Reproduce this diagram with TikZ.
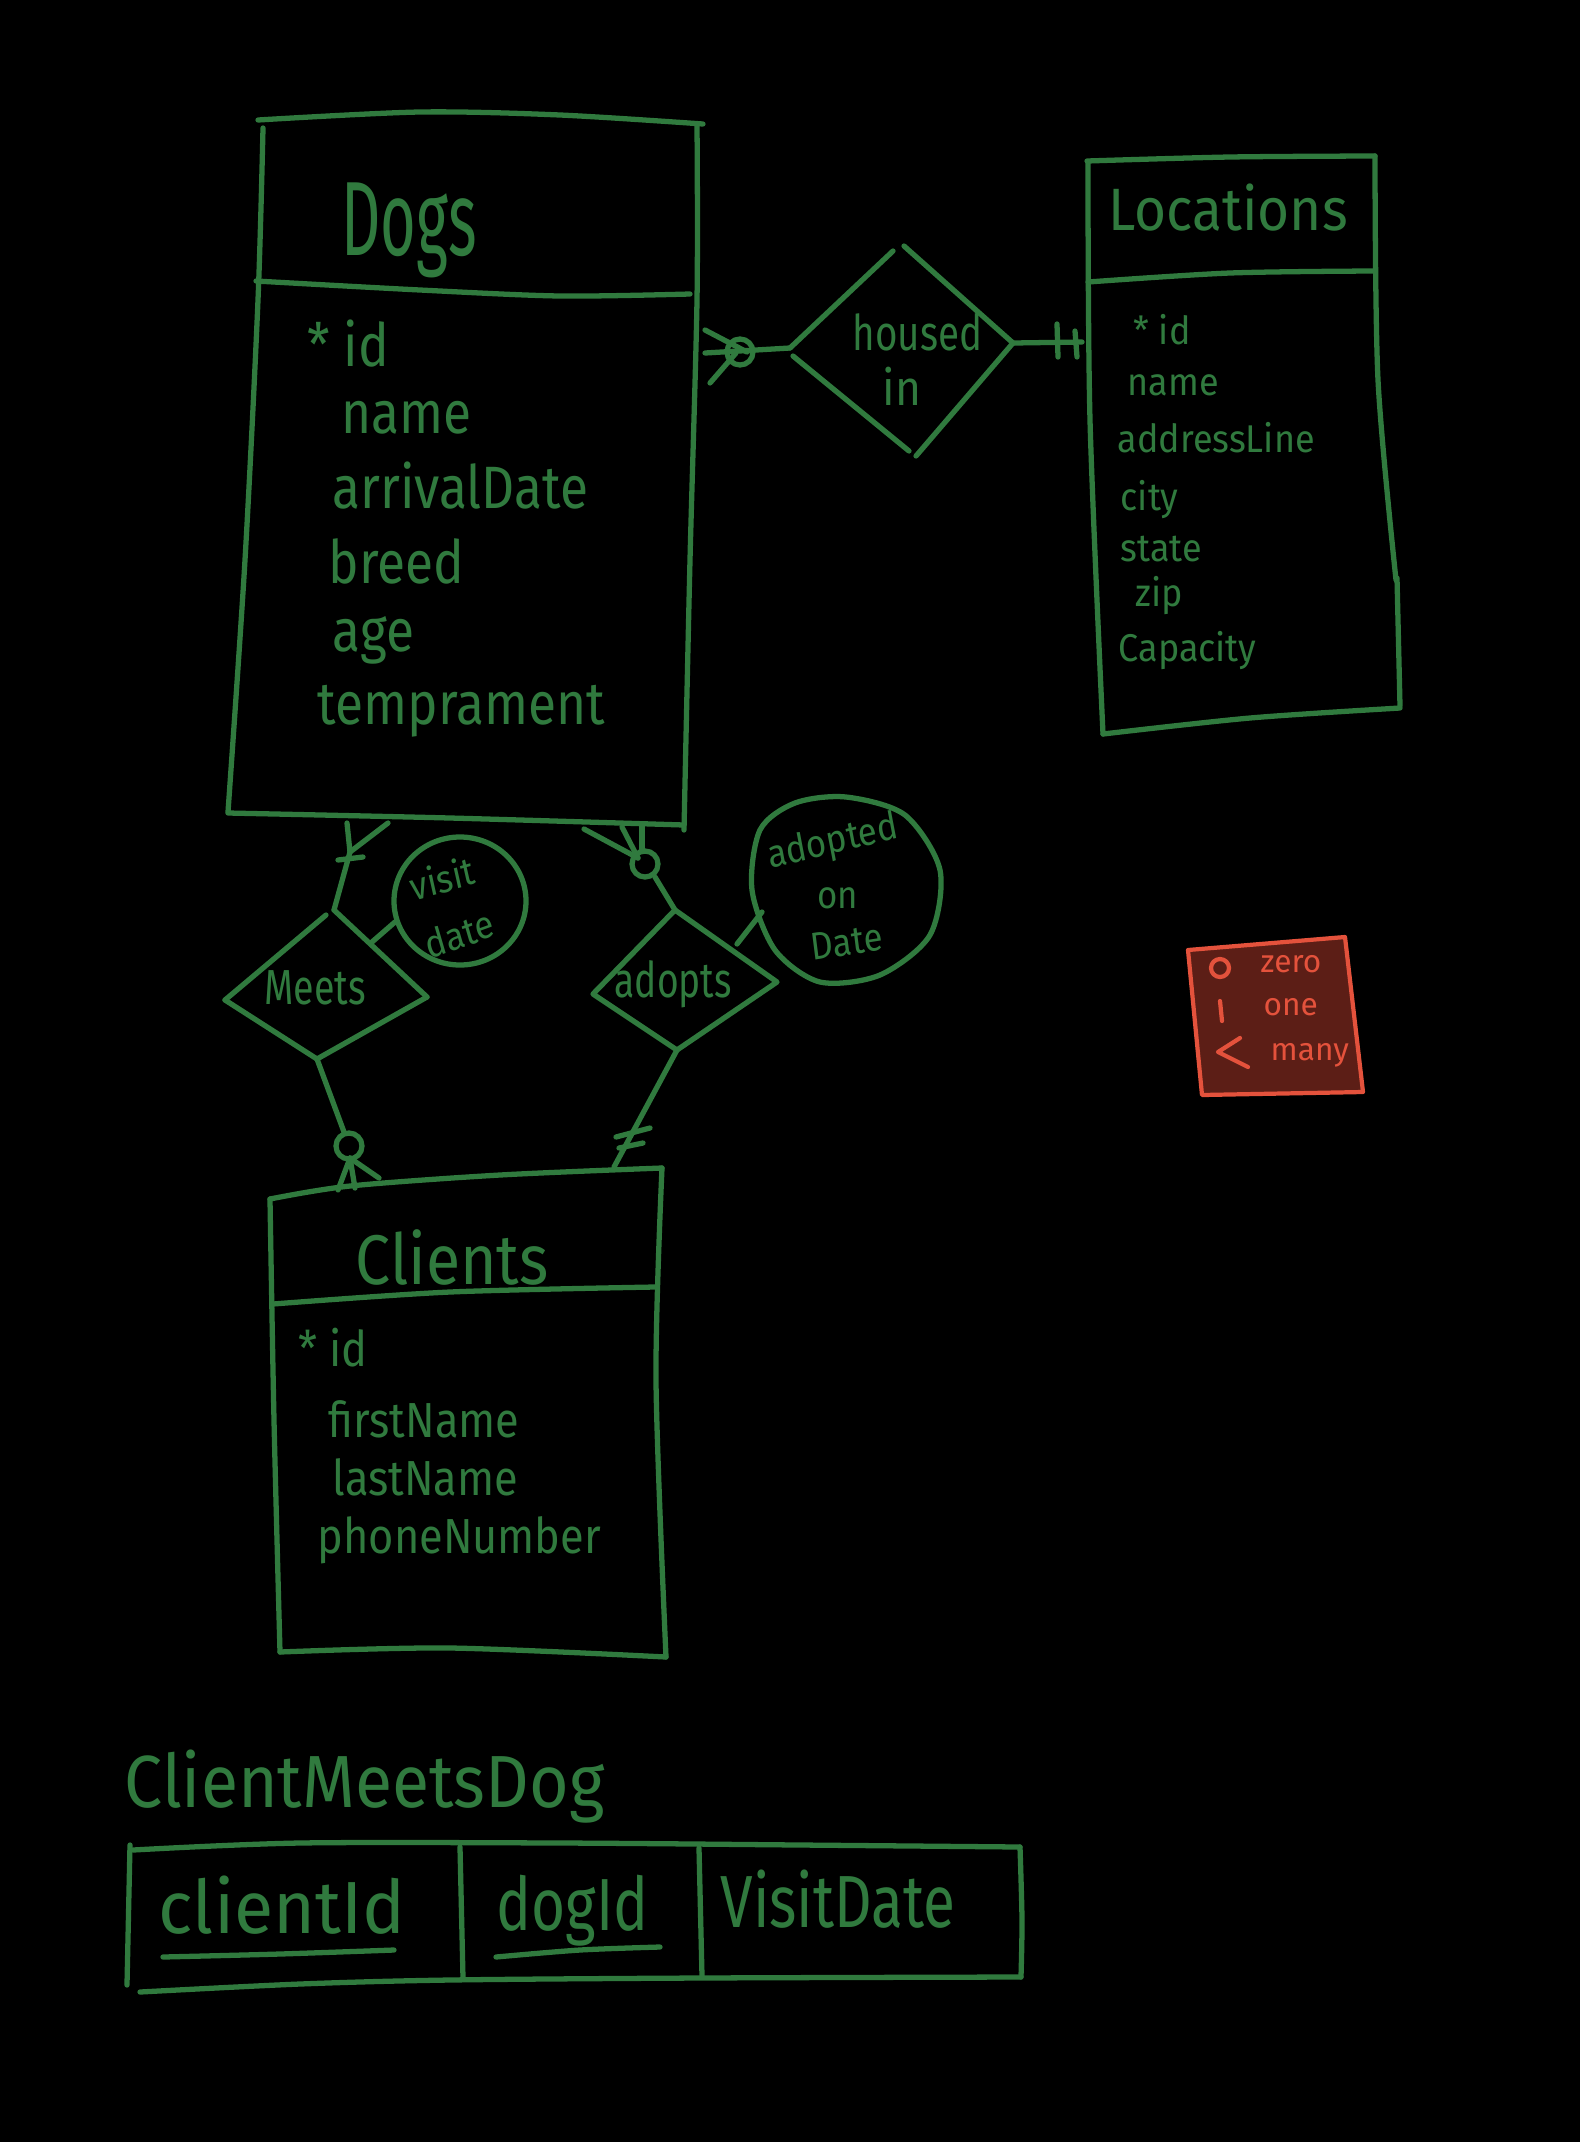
\documentclass[tikz,border=0pt]{standalone}
\usepackage{fontspec}
\setmainfont{Fira Sans}
\definecolor{ink}{RGB}{48,122,62}
\definecolor{keyink}{RGB}{228,82,60}
\definecolor{keyfill}{RGB}{92,30,22}
\begin{document}
\begin{tikzpicture}[x=0.01cm,y=-0.01cm,
  pen/.style={draw=ink,line width=1.5pt,line cap=round,line join=round},
  keypen/.style={draw=keyink,line width=1.2pt,line cap=round,line join=round},
  hw/.style={text=ink,inner sep=0pt,anchor=base west},
  dogtitle/.style={hw,font=\fontsize{30}{32}\selectfont,xscale=0.58},
  dogattr/.style={hw,font=\fontsize{17}{19}\selectfont,xscale=0.86},
  loctitle/.style={hw,font=\fontsize{17}{19}\selectfont,xscale=0.92},
  locattr/.style={hw,font=\fontsize{11}{13}\selectfont,xscale=0.93},
  clititle/.style={hw,font=\fontsize{20}{22}\selectfont,xscale=0.89},
  cliattr/.style={hw,font=\fontsize{14}{16}\selectfont,xscale=0.88},
  reltext/.style={hw,font=\fontsize{14}{16}\selectfont,xscale=0.9},
  smalltext/.style={text=ink,inner sep=0pt,font=\fontsize{11}{13}\selectfont,xscale=0.9},
  tabletitle/.style={hw,font=\fontsize{21}{23}\selectfont,xscale=0.92},
  celltext/.style={hw,font=\fontsize{21}{23}\selectfont,xscale=0.9},
  keytext/.style={text=keyink,inner sep=0pt,anchor=base west,font=\fontsize{9}{11}\selectfont}
]
% page
\fill[black] (0,0) rectangle (1580,2142);
\useasboundingbox (0,0) rectangle (1580,2142);

% ---------------- Dogs entity ----------------
\draw[pen] plot[smooth] coordinates {(258,120) (420,112) (560,115) (703,124)};
\draw[pen] plot[smooth] coordinates {(697,124) (697,300) (690,560) (684,830)};
\draw[pen] plot[smooth] coordinates {(263,128) (258,300) (245,560) (228,812)};
\draw[pen] plot[smooth] coordinates {(228,813) (450,818) (684,825)};
\draw[pen] plot[smooth] coordinates {(256,281) (420,290) (560,296) (690,294)};
\node[dogtitle] (dogs) at (341,255) {Dogs};
\node[dogattr] (dogsid) at (307,366) {* id};
\node[dogattr] at (341,433) {name};
\node[dogattr] at (332,508) {arrivalDate};
\node[dogattr] at (328,583) {breed};
\node[dogattr] at (332,651) {age};
\node[dogattr] at (317,724) {temprament};
\coordinate (dogsR) at (705,353);
\coordinate (dogsB1) at (347,823);
\coordinate (dogsB2) at (622,827);

% ---------------- Locations entity ----------------
\draw[pen] plot[smooth] coordinates {(1087,161) (1230,157) (1375,156)};
\draw[pen] plot[smooth] coordinates {(1375,156) (1378,380) (1396,580)};
\draw[pen] (1397,578) -- (1400,706);
\draw[pen] plot[smooth] coordinates {(1400,708) (1250,718) (1103,734)};
\draw[pen] plot[smooth] coordinates {(1088,162) (1090,420) (1103,734)};
\draw[pen] plot[smooth] coordinates {(1088,282) (1230,273) (1374,271)};
\node[loctitle] (locations) at (1108,230) {Locations};
\node[locattr] at (1133,344) {* id};
\node[locattr] at (1127,395) {name};
\node[locattr] at (1117,452) {addressLine};
\node[locattr] at (1120,510) {city};
\node[locattr] at (1120,561) {state};
\node[locattr] at (1135,606) {zip};
\node[locattr] at (1118,661) {Capacity};
\coordinate (locL) at (1082,342);

% ---------------- housed in ----------------
\coordinate (hT) at (898,248);
\coordinate (hR) at (1013,343);
\coordinate (hB) at (913,455);
\coordinate (hL) at (790,348);
\draw[pen] (hL) -- (893,251);
\draw[pen] (904,246) -- (hR);
\draw[pen] (hR) -- (916,456);
\draw[pen] (909,451) -- (793,356);
\node[reltext,xscale=0.87] at (852,350) {housed};
\node[reltext] at (882,405) {in};
% Dogs side: zero or many
\draw[pen] (dogsR) -- (hL);
\draw[pen] (705,330) -- (747,352);
\draw[pen] (710,383) -- (736,353);
\draw[pen] (740,352) circle[radius=13];
% Locations side: exactly one
\draw[pen] (hR) -- (locL);
\draw[pen] (1057,324) -- (1058,357);
\draw[pen] (1075,331) -- (1077,357);

% ---------------- Meets ----------------
\coordinate (mL) at (225,1000);
\coordinate (mT) at (334,910);
\coordinate (mR) at (427,997);
\coordinate (mB) at (317,1059);
\draw[pen] (mL) -- (326,915);
\draw[pen] (mT) -- (mR);
\draw[pen] (mR) -- (mB);
\draw[pen] (mB) -- (mL);
\node[reltext,xscale=0.85] at (264,1004) {Meets};
% attribute: visit date
\draw[pen] (460,901) ellipse[x radius=66, y radius=64];
\node[smalltext,rotate=14] at (442,878) {visit};
\node[smalltext,rotate=18] at (459,934) {date};
\draw[pen] (372,942) -- (395,922);
% Dogs side: one or many
\draw[pen] (mT) -- (350,852);
\draw[pen] (dogsB1) -- (350,852);
\draw[pen] (388,823) -- (350,852);
\draw[pen] (338,860) -- (363,857);
% Clients side: zero or many
\draw[pen] (mB) -- (344,1132);
\draw[pen] (349,1146) circle[radius=13];
\draw[pen] (350,1158) -- (338,1190);
\draw[pen] (350,1158) -- (355,1188);
\draw[pen] (350,1158) -- (379,1178);

% ---------------- adopts ----------------
\coordinate (aL) at (593,994);
\coordinate (aT) at (675,910);
\coordinate (aR) at (777,982);
\coordinate (aB) at (677,1050);
\draw[pen] (aL) -- (aT) -- (aR) -- (aB) -- cycle;
\node[reltext,xscale=0.84] at (614,997) {adopts};
% attribute: adopted on Date
\draw[pen] plot[smooth cycle] coordinates {(846,797) (905,815) (940,870) (930,935) (880,975) (820,982) (775,950) (752,890) (760,830) (795,803)};
\node[smalltext,rotate=12] at (833,843) {adopted};
\node[smalltext] at (838,898) {on};
\node[smalltext,rotate=8] at (847,942) {Date};
\draw[pen] (737,944) -- (762,912);
% Dogs side: zero or many
\draw[pen] (aT) -- (655,877);
\draw[pen] (645,864) circle[radius=13];
\draw[pen] (584,829) -- (638,858);
\draw[pen] (dogsB2) -- (638,858);
\draw[pen] (642,825) -- (642,850);
% Clients side: exactly one
\draw[pen] (aB) -- (614,1167);
\draw[pen] (616,1137) -- (650,1128);
\draw[pen] (619,1148) -- (643,1143);

% ---------------- Clients entity ----------------
\draw[pen] plot[smooth] coordinates {(270,1199) (350,1186) (500,1175) (662,1168)};
\draw[pen] plot[smooth] coordinates {(662,1168) (656,1380) (666,1657)};
\draw[pen] plot[smooth] coordinates {(280,1652) (450,1648) (666,1657)};
\draw[pen] plot[smooth] coordinates {(270,1199) (274,1420) (280,1652)};
\draw[pen] plot[smooth] coordinates {(273,1304) (450,1292) (655,1287)};
\node[clititle] (clients) at (355,1284) {Clients};
\node[cliattr] at (298,1366) {* id};
\node[cliattr] at (328,1437) {firstName};
\node[cliattr] at (332,1495) {lastName};
\node[cliattr] at (317,1553) {phoneNumber};

% ---------------- ClientMeetsDog table ----------------
\node[tabletitle] (cmd) at (124,1807) {ClientMeetsDog};
\draw[pen] plot[smooth] coordinates {(133,1850) (300,1843) (560,1843) (800,1845) (1020,1847)};
\draw[pen] plot[smooth] coordinates {(1020,1847) (1022,1920) (1021,1977)};
\draw[pen] plot[smooth] coordinates {(1021,1977) (700,1978) (450,1980) (300,1984) (140,1992)};
\draw[pen] (130,1845) -- (127,1985);
\draw[pen] (460,1847) -- (463,1978);
\draw[pen] (699,1848) -- (702,1976);
\node[celltext,xscale=1.08] (cid) at (158,1933) {clientId};
\node[celltext,xscale=0.88] (did) at (496,1930) {dogId};
\node[celltext,xscale=0.88] (vd) at (720,1927) {VisitDate};
\draw[pen] plot[smooth] coordinates {(163,1957) (280,1954) (394,1950)};
\draw[pen] plot[smooth] coordinates {(496,1957) (580,1950) (660,1947)};

% ---------------- cardinality key ----------------
\draw[keypen,fill=keyfill] (1188,950) -- (1345,937) -- (1363,1092) -- (1202,1095) -- cycle;
\draw[keypen] (1220,968) circle[radius=9];
\node[keytext] at (1260,972) {zero};
\draw[keypen] (1220,1001) -- (1222,1021);
\node[keytext] at (1263,1015) {one};
\draw[keypen] (1240,1038) -- (1218,1052) -- (1248,1067);
\node[keytext] at (1270,1060) {many};
\end{tikzpicture}
\end{document}
